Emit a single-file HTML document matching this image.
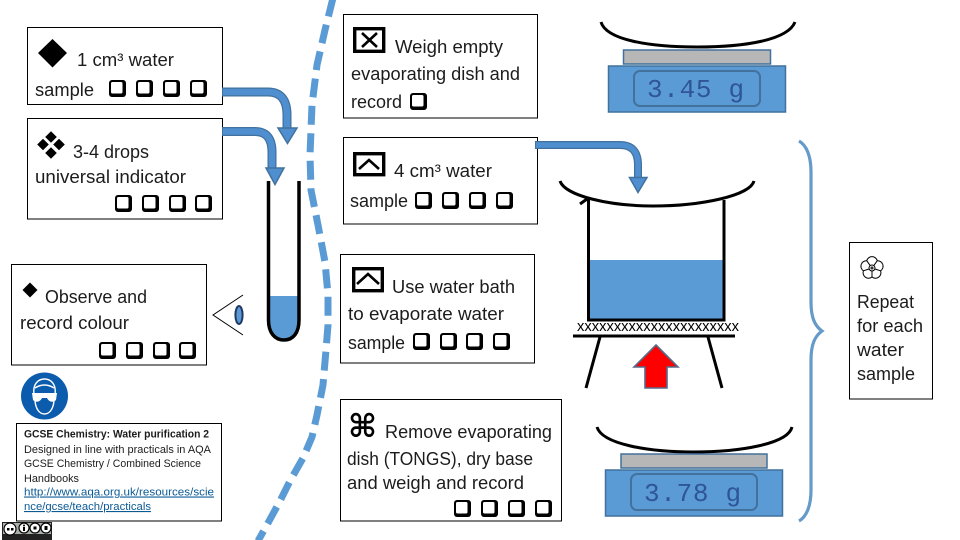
<!DOCTYPE html>
<html lang="en"><head><meta charset="utf-8"><title>Water purification 2</title>
<style>html,body{margin:0;padding:0;background:#fff}svg{display:block}
text{font-family:"Liberation Sans",sans-serif;font-size:18px;fill:#1c1c1c}
.s{font-size:11px}.m{font-family:"Liberation Mono",monospace;font-size:26px;letter-spacing:.7px;fill:#2f5597}
.l{fill:#0b5a94;text-decoration:underline}
.b{fill:#fff;stroke:#000;stroke-width:1}</style></head>
<body>
<svg width="960" height="540" viewBox="0 0 960 540" xmlns="http://www.w3.org/2000/svg">
<defs>
<g id="c"><rect width="17" height="17" rx="3" fill="#000"/><rect x="2" y="2" width="11.5" height="11.5" rx="1.5" fill="#fff"/></g>
<path id="d" d="M0,-5.8L5.8,0L0,5.8L-5.8,0Z" fill="#000"/>
</defs>
<rect width="960" height="540" fill="#fff"/>

<!-- dashed divider -->
<polyline points="333,-2 325,30 317,65 312,105 310,155 311,190 318,225 325,262 328,295 328,325 326,350 323,385 317,415 312,437 303,458 290,481 280,501 268,523 258,541" fill="none" stroke="#5b9bd5" stroke-width="7" stroke-dasharray="19,8.5" stroke-linejoin="round"/>

<!-- boxes -->
<rect class="b" x="27.5" y="27.5" width="195" height="77"/>
<rect class="b" x="27.5" y="118.5" width="195" height="100.5"/>
<rect class="b" x="11.5" y="264.5" width="195" height="100.5"/>
<rect class="b" x="16.5" y="423.5" width="205" height="97.5"/>
<rect class="b" x="343.5" y="14.5" width="194" height="103.5"/>
<rect class="b" x="343.5" y="137.5" width="194" height="86.5"/>
<rect class="b" x="340.5" y="254.5" width="194" height="108.5"/>
<rect class="b" x="340.5" y="399.5" width="221" height="121.5"/>
<rect class="b" x="849.5" y="242.5" width="83" height="156.5"/>

<!-- box 1 -->
<path d="M52.5,39L67,53L52.5,67.5L38,53Z" fill="#000"/>
<text x="77" y="66" textLength="97" lengthAdjust="spacingAndGlyphs">1 cm³ water</text>
<text x="35" y="96" textLength="59" lengthAdjust="spacingAndGlyphs">sample</text>
<use href="#c" x="109" y="80"/><use href="#c" x="136" y="80"/><use href="#c" x="163" y="80"/><use href="#c" x="190" y="80"/>

<!-- box 2 -->
<use href="#d" x="51" y="137"/><use href="#d" x="43" y="144.5"/><use href="#d" x="59" y="144.5"/><use href="#d" x="51" y="153"/>
<text x="73" y="158" textLength="76" lengthAdjust="spacingAndGlyphs">3-4 drops</text>
<text x="35" y="183" textLength="151" lengthAdjust="spacingAndGlyphs">universal indicator</text>
<use href="#c" x="115" y="195"/><use href="#c" x="142" y="195"/><use href="#c" x="169" y="195"/><use href="#c" x="195" y="195"/>

<!-- box 3 -->
<path d="M30,282.5L37.5,290L30,297.5L22.5,290Z" fill="#000"/>
<text x="45" y="303" textLength="102" lengthAdjust="spacingAndGlyphs">Observe and</text>
<text x="20" y="329" textLength="109" lengthAdjust="spacingAndGlyphs">record colour</text>
<use href="#c" x="99" y="342"/><use href="#c" x="126" y="342"/><use href="#c" x="153" y="342"/><use href="#c" x="179" y="342"/>

<!-- safety icon -->
<circle cx="44.5" cy="396" r="23.5" fill="#0b5cad"/>
<g fill="none" stroke="#fff" stroke-width="1.4">
<path d="M34,394 C31,374 58,374 55,394"/>
<path d="M35,401 C36,410 40,414 44.5,414 C49,414 53,410 54,401"/>
<path d="M35,388 C41,384 48,384 54,388"/>
</g>
<path d="M32,393 H57 L56,400 C53,403 49,402 47,398 H42 C40,402 36,403 33,400Z" fill="#fff"/>

<!-- info box -->
<text class="s" x="24" y="437.5" font-weight="700" textLength="185" lengthAdjust="spacingAndGlyphs">GCSE Chemistry: Water purification 2</text>
<text class="s" x="24" y="453" textLength="187" lengthAdjust="spacingAndGlyphs">Designed in line with practicals in AQA</text>
<text class="s" x="24" y="467" textLength="177" lengthAdjust="spacingAndGlyphs">GCSE Chemistry / Combined Science</text>
<text class="s" x="24" y="482" textLength="55" lengthAdjust="spacingAndGlyphs">Handbooks</text>
<text class="s l" x="24" y="495.5" textLength="190" lengthAdjust="spacingAndGlyphs">http://www.aqa.org.uk/resources/scie</text>
<text class="s l" x="24" y="510" textLength="127" lengthAdjust="spacingAndGlyphs">nce/gcse/teach/practicals</text>

<!-- cc badge -->
<rect x="2" y="522" width="50" height="18" fill="#222"/>
<rect x="3" y="523" width="48" height="11" fill="#aab0aa"/>
<g fill="#fff" stroke="#000" stroke-width="1.2">
<circle cx="10" cy="529" r="6"/><circle cx="24" cy="528" r="5"/><circle cx="35" cy="528" r="5"/><circle cx="46" cy="528" r="5"/>
</g>
<g fill="#000"><circle cx="24" cy="525.5" r="1"/><rect x="23" y="527" width="2" height="4"/><rect x="7" y="528" width="2.5" height="2.5"/><rect x="11" y="528" width="2.5" height="2.5"/><rect x="33.5" y="526.5" width="3" height="3"/><rect x="44.5" y="526" width="3" height="4"/></g>

<!-- test tube, eye -->
<path d="M269,296 H298 V320 C298,333 293,339 284,339 C275,339 269,333 269,320Z" fill="#5b9bd5"/>
<path d="M268.5,181 V320 C268.5,333 275,340 284,340 C293,340 299,333 299,320 V181" fill="none" stroke="#000" stroke-width="3.5"/>
<path d="M243,295 L213,315 L243,335" fill="none" stroke="#000" stroke-width="1"/>
<ellipse cx="239" cy="315" rx="3.6" ry="9" fill="#5b9bd5" stroke="#1f3864" stroke-width="2"/>

<!-- arrows -->
<g fill="none" stroke="#41719c" stroke-width="9">
<path d="M222,92 H268 Q287,92 287,115 V128"/>
<path d="M222,131.5 H255 Q272,131.5 272,152 V168"/>
</g>
<g fill="none" stroke="#41719c" stroke-width="8">
<path d="M535,145 H620 Q638,145 638,165 V178"/>
</g>
<g fill="none" stroke="#4f8fcf" stroke-width="6.5">
<path d="M223,92 H268 Q287,92 287,115 V129"/>
<path d="M223,131.5 H255 Q272,131.5 272,152 V169"/>
</g>
<path d="M536,145 H620 Q638,145 638,165 V179" fill="none" stroke="#4f8fcf" stroke-width="5.5"/>
<g fill="#4f8fcf" stroke="#41719c" stroke-width="1.5">
<path d="M278,128 H297 L287.5,143.5Z"/>
<path d="M266,168 H284 L275,184.5Z"/>
<path d="M629.5,177.5 H647 L638,192.5Z"/>
</g>

<!-- box 5 -->
<rect x="354.7" y="28.7" width="29" height="22.6" fill="#fff" stroke="#000" stroke-width="3.4"/>
<path d="M362,33 L377,47 M377,33 L362,47" stroke="#000" stroke-width="2.6" fill="none"/>
<text x="395" y="53" textLength="108" lengthAdjust="spacingAndGlyphs">Weigh empty</text>
<text x="351" y="80" textLength="169" lengthAdjust="spacingAndGlyphs">evaporating dish and</text>
<text x="351" y="108" textLength="51" lengthAdjust="spacingAndGlyphs">record</text>
<use href="#c" x="410" y="93"/>

<!-- box 6 -->
<rect x="354.7" y="153.7" width="29" height="21" fill="#fff" stroke="#000" stroke-width="3.4"/>
<path d="M359,169 L369,160 L379,169" stroke="#000" stroke-width="2.6" fill="none"/>
<text x="394" y="177" textLength="98" lengthAdjust="spacingAndGlyphs">4 cm³ water</text>
<text x="350" y="207" textLength="58" lengthAdjust="spacingAndGlyphs">sample</text>
<use href="#c" x="415" y="192"/><use href="#c" x="442" y="192"/><use href="#c" x="469" y="192"/><use href="#c" x="496" y="192"/>

<!-- box 7 -->
<rect x="353.7" y="268.7" width="28.6" height="22" fill="#fff" stroke="#000" stroke-width="3.4"/>
<path d="M357,284 L368,274 L379,284" stroke="#000" stroke-width="2.6" fill="none"/>
<text x="392" y="293" textLength="123" lengthAdjust="spacingAndGlyphs">Use water bath</text>
<text x="348" y="320" textLength="156" lengthAdjust="spacingAndGlyphs">to evaporate water</text>
<text x="348" y="349" textLength="57" lengthAdjust="spacingAndGlyphs">sample</text>
<use href="#c" x="413" y="333"/><use href="#c" x="440" y="333"/><use href="#c" x="466" y="333"/><use href="#c" x="493" y="333"/>

<!-- box 8 -->
<text x="348" y="437" style="font-family:'DejaVu Sans',sans-serif;font-size:32px;font-weight:700;fill:#000" textLength="29" lengthAdjust="spacingAndGlyphs">⌘</text>
<text x="385" y="438" textLength="167" lengthAdjust="spacingAndGlyphs">Remove evaporating</text>
<text x="347" y="465" textLength="186" lengthAdjust="spacingAndGlyphs">dish (TONGS), dry base</text>
<text x="347" y="489" textLength="177" lengthAdjust="spacingAndGlyphs">and weigh and record</text>
<use href="#c" x="454" y="500"/><use href="#c" x="481" y="500"/><use href="#c" x="508" y="500"/><use href="#c" x="535" y="500"/>

<!-- top balance -->
<path d="M601,22 C606,40 650,47 697,47 C745,47 788,40 795,22" fill="none" stroke="#000" stroke-width="3"/>
<rect x="623.5" y="50" width="147" height="14" fill="#b7b7b7" stroke="#41719c" stroke-width="1.5"/>
<rect x="608.5" y="66" width="177" height="46" fill="#5b9bd5" stroke="#41719c" stroke-width="1.5"/>
<rect x="634" y="71" width="126" height="35" rx="6" fill="#5b9bd5" stroke="#41719c" stroke-width="2"/>
<text class="m" x="647" y="97">3.45 g</text>

<!-- beaker -->
<rect x="590" y="260" width="133" height="59" fill="#5b9bd5"/>
<path d="M580,204 L587,199 L588.5,200 V320 H724 V200" fill="none" stroke="#000" stroke-width="3"/>
<path d="M560,181 C565,196 610,206 653,206 C700,206 750,196 754,181" fill="none" stroke="#000" stroke-width="3"/>
<text x="577" y="331" style="font-size:15px;fill:#000" textLength="162" lengthAdjust="spacingAndGlyphs">xxxxxxxxxxxxxxxxxxxxxx</text>
<path d="M573,336 H735" stroke="#000" stroke-width="3"/>
<path d="M600,337 L586,388 M708,337 L722,388" stroke="#000" stroke-width="3" fill="none"/>
<path d="M656,345 L678,367 H667 V388 H645 V367 H634Z" fill="#ff0000" stroke="#566a8a" stroke-width="1.6"/>

<!-- bottom balance -->
<path d="M597,427 C602,444 648,452 693,452 C740,452 788,444 792,427" fill="none" stroke="#000" stroke-width="3"/>
<rect x="621" y="454" width="146" height="14" fill="#b7b7b7" stroke="#41719c" stroke-width="1.5"/>
<rect x="605.5" y="470" width="177" height="46" fill="#5b9bd5" stroke="#41719c" stroke-width="1.5"/>
<rect x="631" y="474" width="126" height="36" rx="6" fill="#5b9bd5" stroke="#41719c" stroke-width="2"/>
<text class="m" x="644" y="501">3.78 g</text>

<!-- brace -->
<path d="M799,141 C806,145 811,155 811,172 V302 C811,318 815,326 822,331 C815,336 811,344 811,360 V490 C811,507 806,517 799,521" fill="none" stroke="#659ac9" stroke-width="3.2"/>

<!-- repeat box -->
<g fill="none" stroke="#000" stroke-width="1">
<path d="M866.7,260.7 A5.5,5.5 0 0 1 877.3,260.7 A5.5,5.5 0 0 1 880.6,270.8 A5.5,5.5 0 0 1 872,277 A5.5,5.5 0 0 1 863.4,270.8 A5.5,5.5 0 0 1 866.7,260.7Z"/>
<circle cx="872" cy="268" r="3"/><circle cx="872" cy="268" r="1"/>
<path d="M866.7,260.7L870.2,265.6M877.3,260.7L873.8,265.6M880.6,270.8L874.9,269M872,277V271M863.4,270.8L869.1,269"/>
</g>
<text x="857" y="308" textLength="57" lengthAdjust="spacingAndGlyphs">Repeat</text>
<text x="857" y="332" textLength="66" lengthAdjust="spacingAndGlyphs">for each</text>
<text x="857" y="356" textLength="47" lengthAdjust="spacingAndGlyphs">water</text>
<text x="857" y="380" textLength="58" lengthAdjust="spacingAndGlyphs">sample</text>
</svg>
</body></html>
